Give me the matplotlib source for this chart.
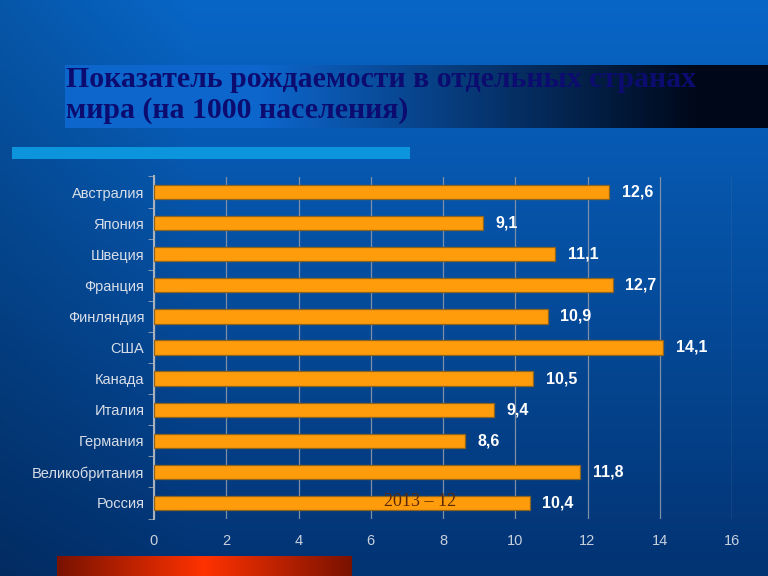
import numpy as np
import matplotlib.pyplot as plt
from matplotlib.colors import LinearSegmentedColormap

countries = ['Австралия', 'Япония', 'Швеция', 'Франция', 'Финляндия', 'США',
             'Канада', 'Италия', 'Германия', 'Великобритания', 'Россия']
rates = [12.6, 9.1, 11.1, 12.7, 10.9, 14.1, 10.5, 9.4, 8.6, 11.8, 10.4]
rate_labels = ['12,6', '9,1', '11,1', '12,7', '10,9', '14,1', '10,5', '9,4', '8,6', '11,8', '10,4']
x_ticks = [0, 2, 4, 6, 8, 10, 12, 14, 16]

title = 'Показатель рождаемости в отдельных странах\nмира (на 1000 населения)'
footer = '2013 – 12'

fig = plt.figure(figsize=(7.68, 5.76), dpi=100)

# background gradient
bg = fig.add_axes([0, 0, 1, 1], zorder=-10)
yy, xx = np.mgrid[0:1:200j, 0:1:200j]
top = np.array([0.03, 0.40, 0.78])
bottom = np.array([0.01, 0.20, 0.45])
img = top[None, None, :] * (1 - yy[..., None]) + bottom[None, None, :] * yy[..., None]
img = img * (0.85 + 0.15 * np.clip(xx[..., None] * 4, 0, 1))
bg.imshow(img, extent=[0, 1, 0, 1], aspect='auto', origin='upper')
bg.set_xlim(0, 1)
bg.set_ylim(0, 1)
bg.axis('off')

# title band, blue fading to black
band = np.linspace(0, 1, 300)
fade = np.clip((band - 0.28) / 0.62, 0, 1)
band_col = np.array([0.05, 0.40, 0.80])[None, :] * (1 - fade[:, None]) + np.array([0.0, 0.03, 0.10])[None, :] * fade[:, None]
bg.imshow(band_col[None, :, :], extent=[65 / 768, 1, 1 - 128 / 576, 1 - 65 / 576], aspect='auto')

# light blue stripe under title
bg.add_patch(plt.Rectangle((12 / 768, 1 - 159 / 576), 398 / 768, 12 / 576, color='#0c94dc', lw=0))

# red stripe at bottom
red_cmap = LinearSegmentedColormap.from_list('red', ['#7a1200', '#ff3200', '#7a1200'])
bg.imshow(np.linspace(0, 1, 200)[None, :], cmap=red_cmap, extent=[57 / 768, 352 / 768, 0, 20 / 576], aspect='auto')

bg.text(66 / 768, 1 - 95 / 576, title, color='#0c0c70', fontsize=21.5, fontweight='bold',
        family='Liberation Serif', va='center', ha='left', linespacing=1.2)

ax = fig.add_axes([154 / 768, 1 - 518.5 / 576, 578 / 768, 342 / 576])
ax.patch.set_alpha(0)
y = np.arange(len(countries))
ax.barh(y, rates, height=0.46, color='#ff9c0c', edgecolor='#8a6420', linewidth=0.9, zorder=3)
for yi, v, lab in zip(y, rates, rate_labels):
    ax.text(v + 0.35, yi, lab, color='white', fontsize=11.5, fontweight='bold',
            family='Liberation Sans', va='center', ha='left', zorder=4)

ax.set_xlim(0, 16)
ax.set_ylim(len(countries) - 0.5, -0.5)
ax.set_xticks(x_ticks)
ax.set_xticklabels([str(t) for t in x_ticks], color='#c8d0dc', fontsize=10.5, family='Liberation Sans')
ax.set_yticks(y)
ax.set_yticks(np.arange(len(countries) + 1) - 0.5, minor=True)
ax.set_yticklabels(countries, color='#d8dee8', fontsize=10.5, family='Liberation Sans')
ax.tick_params(axis='x', length=0, pad=11)
ax.tick_params(axis='y', which='major', length=0, pad=7)
ax.tick_params(axis='y', which='minor', length=4, color='#a0a8b4')
ax.grid(axis='x', color='#7d8fa6', linewidth=0.9, zorder=0)
for s in ['top', 'right', 'bottom']:
    ax.spines[s].set_visible(False)
ax.spines['left'].set_color('#a8b0bc')
ax.spines['left'].set_linewidth(1.5)

ax.text(384 / 768, 1 - 502 / 576, footer, transform=fig.transFigure, color='#5a2a08',
        fontsize=13, family='Liberation Serif', va='center', ha='left', zorder=5)

fig.savefig('out.png', dpi=100)
